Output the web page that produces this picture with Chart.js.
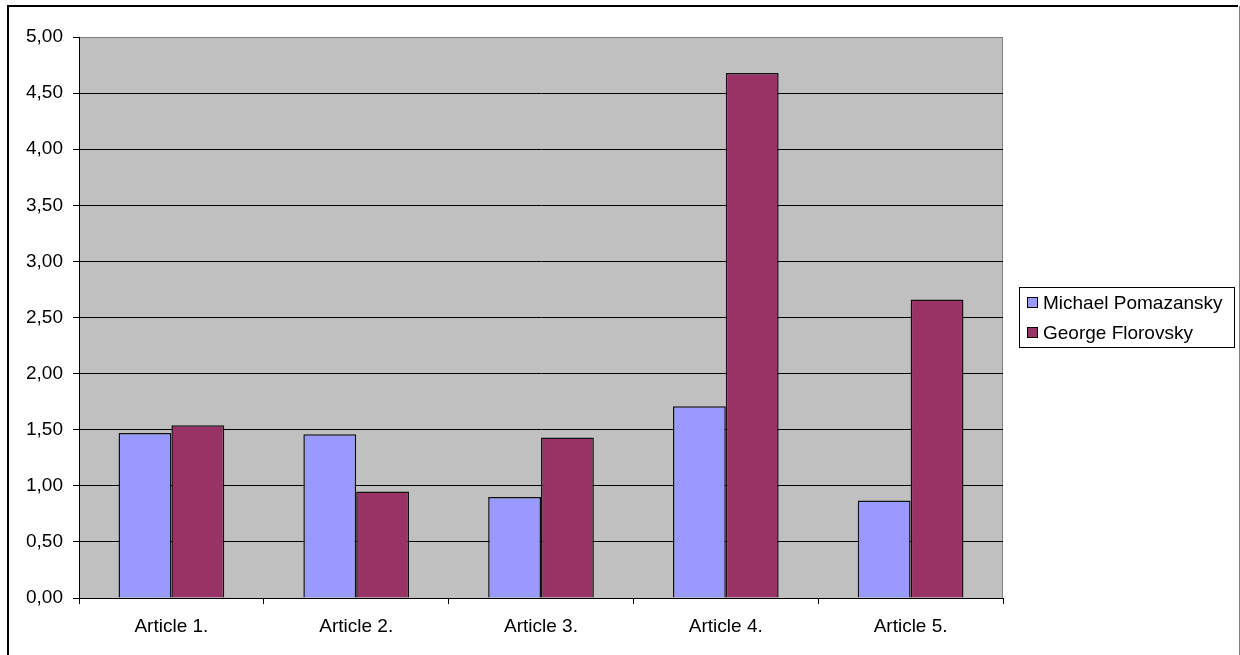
<!DOCTYPE html>
<html>
<head>
<meta charset="utf-8">
<script src="https://cdn.jsdelivr.net/npm/chart.js@4/dist/chart.umd.min.js"></script>
<style>
    body { margin: 0; background: #fff; }
    #wrap { width: 1240px; height: 655px; }
</style>
</head>
<body>
<div id="wrap"><canvas id="articleChart" width="1240" height="655"></canvas></div>
<script>
const articles = ['Article 1.', 'Article 2.', 'Article 3.', 'Article 4.', 'Article 5.'];
const seriesNames = ['Michael Pomazansky', 'George Florovsky'];
const pomazanskyValues = [1.47, 1.46, 0.90, 1.71, 0.87];
const florovskyValues = [1.54, 0.95, 1.43, 4.68, 2.66];
const seriesColors = ['#9999FF', '#993366'];

const FONT_FAMILY = '"Liberation Sans", Arial, sans-serif';
const FONT_SIZE = 19;

function formatTick(value) {
    return value.toFixed(2).replace('.', ',');
}

// gray plot area + outer frame
const backgroundPlugin = {
    id: 'plotBackground',
    beforeDraw(chart) {
        const ctx = chart.ctx;
        const a = chart.chartArea;
        ctx.save();
        ctx.fillStyle = '#fff';
        ctx.fillRect(0, 0, chart.width, chart.height);
        ctx.fillStyle = '#C0C0C0';
        ctx.fillRect(a.left, a.top, a.right - a.left, a.bottom - a.top);
        ctx.strokeStyle = '#808080';
        ctx.lineWidth = 1;
        ctx.strokeRect(a.left + 0.5, a.top + 0.5, a.right - a.left - 1, a.bottom - a.top);
        ctx.restore();
    },
    afterDraw(chart) {
        const ctx = chart.ctx;
        ctx.save();
        ctx.strokeStyle = '#000';
        ctx.lineWidth = 2;
        ctx.beginPath();
        ctx.moveTo(8, 700);
        ctx.lineTo(8, 6);
        ctx.lineTo(1238, 6);
        ctx.stroke();
        ctx.strokeStyle = '#808080';
        ctx.lineWidth = 1;
        ctx.beginPath();
        ctx.moveTo(1239.5, 6);
        ctx.lineTo(1239.5, 700);
        ctx.stroke();
        ctx.restore();
    }
};

// legend box on the right, drawn from the datasets
const legendPlugin = {
    id: 'boxLegend',
    afterDraw(chart) {
        const ctx = chart.ctx;
        const x = 1019, y = 287, w = 215, h = 60;
        ctx.save();
        ctx.fillStyle = '#fff';
        ctx.fillRect(x, y, w, h);
        ctx.strokeStyle = '#000';
        ctx.lineWidth = 1;
        ctx.strokeRect(x + 0.5, y + 0.5, w, h);
        ctx.font = FONT_SIZE + 'px ' + FONT_FAMILY;
        ctx.textBaseline = 'middle';
        chart.data.datasets.forEach((ds, i) => {
            const rowY = 303 + i * 30;
            ctx.fillStyle = ds.backgroundColor;
            ctx.fillRect(1027, rowY - 5, 10, 10);
            ctx.strokeRect(1027.5, rowY - 5.5, 10, 10);
            ctx.fillStyle = '#000';
            ctx.fillText(ds.label, 1043, rowY + 1);
        });
        ctx.restore();
    }
};

const ctx = document.getElementById('articleChart').getContext('2d');

new Chart(ctx, {
    type: 'bar',
    data: {
        labels: articles,
        datasets: [
            {
                label: seriesNames[0],
                data: pomazanskyValues,
                backgroundColor: seriesColors[0],
                borderColor: '#111',
                borderWidth: 1.5
            },
            {
                label: seriesNames[1],
                data: florovskyValues,
                backgroundColor: seriesColors[1],
                borderColor: '#111',
                borderWidth: 1.5
            }
        ]
    },
    options: {
        responsive: false,
        animation: false,
        devicePixelRatio: 1,
        layout: { padding: { left: 0, top: 37, right: 237, bottom: 0 } },
        datasets: {
            bar: { categoryPercentage: 0.572, barPercentage: 1.0 }
        },
        plugins: {
            legend: { display: false },
            tooltip: { enabled: false }
        },
        scales: {
            x: {
                afterFit: (scale) => { scale.height = 57; },
                grid: {
                    drawOnChartArea: false,
                    color: '#000',
                    tickColor: '#000',
                    tickLength: 6
                },
                border: { color: '#000', width: 1 },
                ticks: {
                    color: '#000',
                    font: { family: FONT_FAMILY, size: FONT_SIZE },
                    padding: 11,
                    maxRotation: 0
                }
            },
            y: {
                min: 0,
                max: 5,
                afterFit: (scale) => { scale.width = 79; },
                grid: {
                    color: (c) => (c.tick && c.tick.value === 5 ? 'rgba(0,0,0,0)' : '#000'),
                    tickColor: '#000',
                    tickLength: 6
                },
                border: { color: '#000', width: 1 },
                ticks: {
                    stepSize: 0.5,
                    color: '#000',
                    font: { family: FONT_FAMILY, size: FONT_SIZE },
                    padding: 10,
                    callback: (value) => formatTick(value)
                }
            }
        }
    },
    plugins: [backgroundPlugin, legendPlugin]
});
</script>
</body>
</html>
